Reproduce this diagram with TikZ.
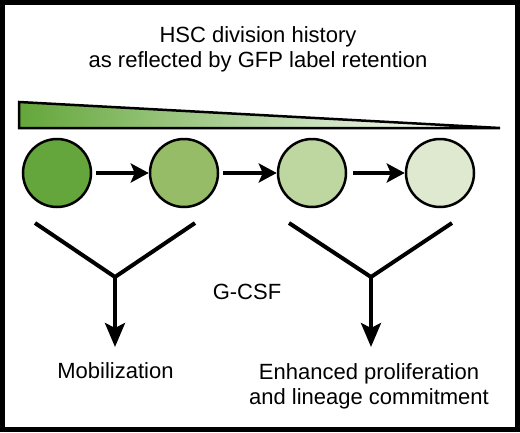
\documentclass[tikz,border=0pt]{standalone}
\usepackage{fontspec}
\setmainfont{Liberation Sans}
\usepackage{tikz}
\usetikzlibrary{arrows.meta}

\definecolor{wedgegreen}{RGB}{100,166,58}
\definecolor{wedgemid}{RGB}{140,186,100}
\definecolor{cellA}{RGB}{100,165,60}
\definecolor{cellB}{RGB}{150,188,104}
\definecolor{cellC}{RGB}{190,214,160}
\definecolor{cellD}{RGB}{222,233,208}

\begin{document}
\begin{tikzpicture}[x=1pt,y=-1pt,
    cell/.style={circle,draw,line width=2.5pt,minimum size=68pt,inner sep=0pt},
    step arrow/.style={line width=4pt,-{Stealth[length=18pt,width=19pt,inset=4pt]}},
    fate arrow/.style={line width=4pt,-{Stealth[length=24pt,width=20pt,inset=5pt]}},
    vline/.style={line width=4pt,line cap=butt,line join=miter},
    label/.style={font=\fontsize{22}{24.5}\selectfont,align=center,inner sep=0pt}]
        \useasboundingbox (0,0) rectangle (520,432);
        \draw[line width=5pt] (2.5,2.5) rectangle (517.5,429.5);
        % title
        \node[label,anchor=base] (title) at (258,67) {HSC division history\\as reflected by GFP label retention};
        % label retention wedge
        \fill[left color=wedgegreen,middle color=wedgemid,right color=white] (19,102) -- (470,127) -- (19,127) -- cycle;
        \draw[line width=2.5pt,line join=miter] (19,102) -- (500,128) -- (19,128) -- cycle;
        % cells
        \node[cell,fill=cellA] (c1) at (57,173) {};
        \node[cell,fill=cellB] (c2) at (184,173) {};
        \node[cell,fill=cellC] (c3) at (312,173) {};
        \node[cell,fill=cellD] (c4) at (440,173) {};
        \draw[step arrow] ([xshift=4pt]c1.east) -- (c2.west);
        \draw[step arrow] ([xshift=4pt]c2.east) -- (c3.west);
        \draw[step arrow] ([xshift=6pt]c3.east) -- (c4.west);
        % fates
        \coordinate (ml) at (35,223);
        \coordinate (mr) at (195,223);
        \coordinate (mj) at (115,277);
        \coordinate (mt) at (115,347);
        \coordinate (el) at (289,223);
        \coordinate (er) at (452,223);
        \coordinate (ej) at (371,277);
        \coordinate (et) at (371,347);
        \draw[vline] (ml) -- (mj) -- (mr);
        \draw[vline] (el) -- (ej) -- (er);
        \draw[fate arrow] (mj) -- (mt);
        \draw[fate arrow] (ej) -- (et);
        \node[label,anchor=base] (gcsf) at (247,299) {G-CSF};
        \node[label,anchor=base] (mob) at (115.5,378) {Mobilization};
        \node[label,anchor=base] (prol) at (369,404) {Enhanced proliferation\\and lineage commitment};
      \end{tikzpicture}
\end{document}
